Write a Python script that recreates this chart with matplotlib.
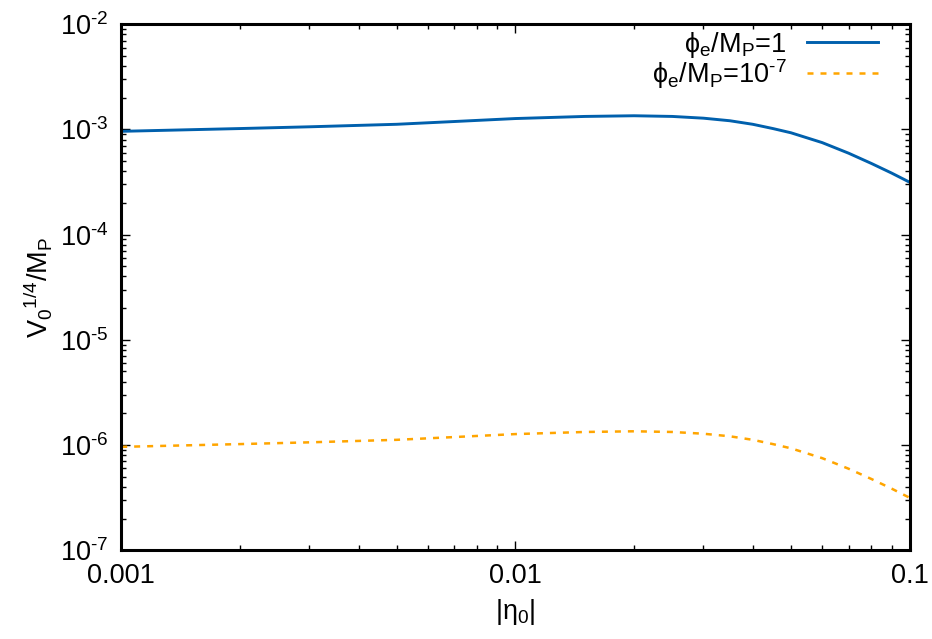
#!/usr/bin/env python3
"""V0^(1/4)/MP against |eta0| for two values of phi_e."""
import matplotlib
matplotlib.use("Agg")
import matplotlib.pyplot as plt
from matplotlib.ticker import LogLocator, FixedLocator, FixedFormatter, NullFormatter, FuncFormatter
import numpy as np

# values
eta0 = [0.001, 0.002, 0.003, 0.005, 0.007, 0.01, 0.015, 0.02, 0.025, 0.03, 0.035,
        0.04, 0.045, 0.05, 0.06, 0.07, 0.08, 0.09, 0.1]
v_phi1 = [9.6e-4, 1.02e-3, 1.06e-3, 1.12e-3, 1.19e-3, 1.27e-3, 1.33e-3, 1.35e-3,
          1.33e-3, 1.28e-3, 1.21e-3, 1.12e-3, 1.02e-3, 9.3e-4, 7.5e-4, 5.95e-4,
          4.75e-4, 3.85e-4, 3.15e-4]
v_phi7 = [9.6e-7, 1.02e-6, 1.06e-6, 1.12e-6, 1.19e-6, 1.27e-6, 1.33e-6, 1.35e-6,
          1.33e-6, 1.28e-6, 1.21e-6, 1.12e-6, 1.02e-6, 9.3e-7, 7.5e-7, 5.95e-7,
          4.75e-7, 3.85e-7, 3.15e-7]
x_ticks = [0.001, 0.01, 0.1]
x_labels = ["0.001", "0.01", "0.1"]

plt.rcParams["font.family"] = ["Liberation Sans", "DejaVu Sans"]
plt.rcParams["mathtext.fontset"] = "custom"
plt.rcParams["mathtext.rm"] = "Liberation Sans"
plt.rcParams["mathtext.it"] = "Liberation Sans"
plt.rcParams["mathtext.default"] = "regular"
plt.rcParams["font.size"] = 19.5

fig = plt.figure(figsize=(9.32, 6.39), dpi=100)
ax = fig.add_axes([0.130, 0.139, 0.846, 0.823])

ax.plot(eta0, v_phi1, color="#0060ad", lw=2.1, label=r"ϕ$_e$/M$_P$=1")
ax.plot(eta0, v_phi7, color="#ffa500", lw=1.8, dashes=(2.4, 2.8),
        label=r"ϕ$_e$/M$_P$=10$^{\text{-}7}$")

ax.set_xscale("log")
ax.set_yscale("log")
ax.set_xlim(0.001, 0.1)
ax.set_ylim(1e-7, 1e-2)

ax.xaxis.set_major_locator(FixedLocator(x_ticks))
ax.xaxis.set_major_formatter(FixedFormatter(x_labels))
ax.xaxis.set_minor_locator(LogLocator(base=10, subs=range(2, 10)))
ax.xaxis.set_minor_formatter(NullFormatter())
ax.yaxis.set_major_locator(LogLocator(base=10, numticks=10))
ax.yaxis.set_major_formatter(FuncFormatter(
    lambda v, p: r"10$^{\text{-}%d}$" % round(-np.log10(v))))
ax.yaxis.set_minor_locator(LogLocator(base=10, subs=range(2, 10), numticks=10))
ax.yaxis.set_minor_formatter(NullFormatter())

ax.tick_params(which="both", direction="in", top=True, right=True, width=1.0)
ax.tick_params(which="major", length=6.5, pad=9)
ax.tick_params(which="minor", length=3.5)
for s in ax.spines.values():
    s.set_linewidth(2.2)

ax.set_xlabel(r"|η$_0$|", labelpad=6)
ax.set_ylabel(r"V$_0$$^{1/4}$/M$_P$", labelpad=4)

ax.legend(loc="upper right", bbox_to_anchor=(0.973, 1.01), frameon=False,
          markerfirst=False, handlelength=2.6, handletextpad=0.75,
          labelspacing=-0.1, borderaxespad=0.0, fontsize=19.5)

fig.savefig("out.png", dpi=100)
